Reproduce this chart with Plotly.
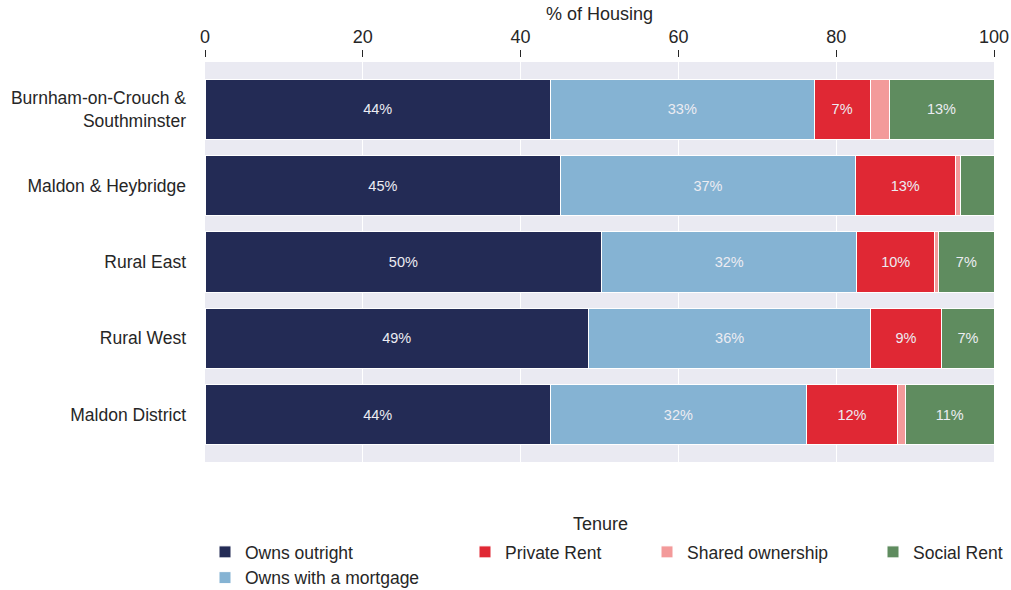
import plotly.graph_objects as go

areas = [
    "Burnham-on-Crouch &<br>Southminster",
    "Maldon & Heybridge",
    "Rural East",
    "Rural West",
    "Maldon District",
]

owns_outright = [43.8, 45.1, 50.3, 48.6, 43.8]
owns_mortgage = [33.4, 37.3, 32.3, 35.8, 32.4]
private_rent = [7.1, 12.7, 9.9, 8.9, 11.6]
shared_ownership = [2.4, 0.6, 0.5, 0.1, 1.0]
social_rent = [13.3, 4.3, 7.0, 6.6, 11.2]

x_ticks = [0, 20, 40, 60, 80, 100]

series = [
    ("Owns outright", owns_outright, "#232b55", "legend", 1),
    ("Owns with a mortgage", owns_mortgage, "#85b3d3", "legend", 2),
    ("Private Rent", private_rent, "#e02834", "legend2", 3),
    ("Shared ownership", shared_ownership, "#f39a9a", "legend3", 4),
    ("Social Rent", social_rent, "#5f8c5f", "legend4", 5),
]

FONT = "Liberation Sans, Arial, sans-serif"
TEXT = "#262626"
W, H = 1011, 590
PL, PR, PT, PB = 205, 994, 62, 462  # plot area in pixels
AXIS_Y = 57                          # x axis line sits a little above the plot
PAPER_T = AXIS_Y


def px_x(px):
    return (px - PL) / (PR - PL)


def px_y(py):
    return (PB - py) / (PB - PAPER_T)


fig = go.Figure()
for name, vals, color, leg, rank in series:
    labels = [f"{round(v)}%" if v >= 5 else "" for v in vals]
    fig.add_trace(go.Bar(
        y=areas, x=vals, name=name, orientation="h",
        marker=dict(color=color, line=dict(color="white", width=1)),
        width=0.79,
        text=labels, textposition="inside", insidetextanchor="middle",
        textangle=0, constraintext="none",
        textfont=dict(color="#ececf2", size=14.5, family=FONT),
        legend=leg, legendrank=rank,
    ))

legend_common = dict(
    orientation="v", xref="paper", yref="paper",
    xanchor="left", yanchor="top", bgcolor="rgba(0,0,0,0)",
    font=dict(size=17.5, color=TEXT, family=FONT),
    itemwidth=30, tracegroupgap=0, traceorder="normal",
)
legend_top = px_y(534)

fig.update_layout(
    width=W, height=H,
    margin=dict(l=PL, r=W - PR, t=PAPER_T, b=H - PB, autoexpand=False),
    barmode="stack",
    paper_bgcolor="white",
    plot_bgcolor="#eaeaf2",
    font=dict(family=FONT, color=TEXT),
    xaxis=dict(
        side="top", range=[0, 100], tickvals=x_ticks,
        anchor="free", position=1.0,
        ticks="outside", ticklen=7, tickcolor=TEXT, tickwidth=1.3,
        tickfont=dict(size=18, color=TEXT),
        showgrid=True, gridcolor="white", gridwidth=1.2,
        zeroline=False, showline=False, automargin=False,
        title=dict(text="% of Housing", font=dict(size=18, color=TEXT), standoff=0),
    ),
    yaxis=dict(
        domain=[0, (PB - PT) / (PB - PAPER_T)],
        autorange=False, range=[4.62, -0.62],
        categoryorder="array", categoryarray=areas,
        ticks="", ticklabelstandoff=18, automargin=False,
        tickfont=dict(size=17.5, color=TEXT),
        showgrid=False, zeroline=False, showline=False,
    ),
    legend=dict(legend_common, x=px_x(205), y=legend_top),
    legend2=dict(legend_common, x=px_x(465), y=legend_top),
    legend3=dict(legend_common, x=px_x(647), y=legend_top),
    legend4=dict(legend_common, x=px_x(873), y=legend_top),
    annotations=[dict(
        text="Tenure", xref="paper", yref="paper",
        x=px_x(600), y=px_y(524),
        xanchor="center", yanchor="middle",
        showarrow=False, font=dict(size=18, color=TEXT, family=FONT),
    )],
)

fig.write_html("out.html")
